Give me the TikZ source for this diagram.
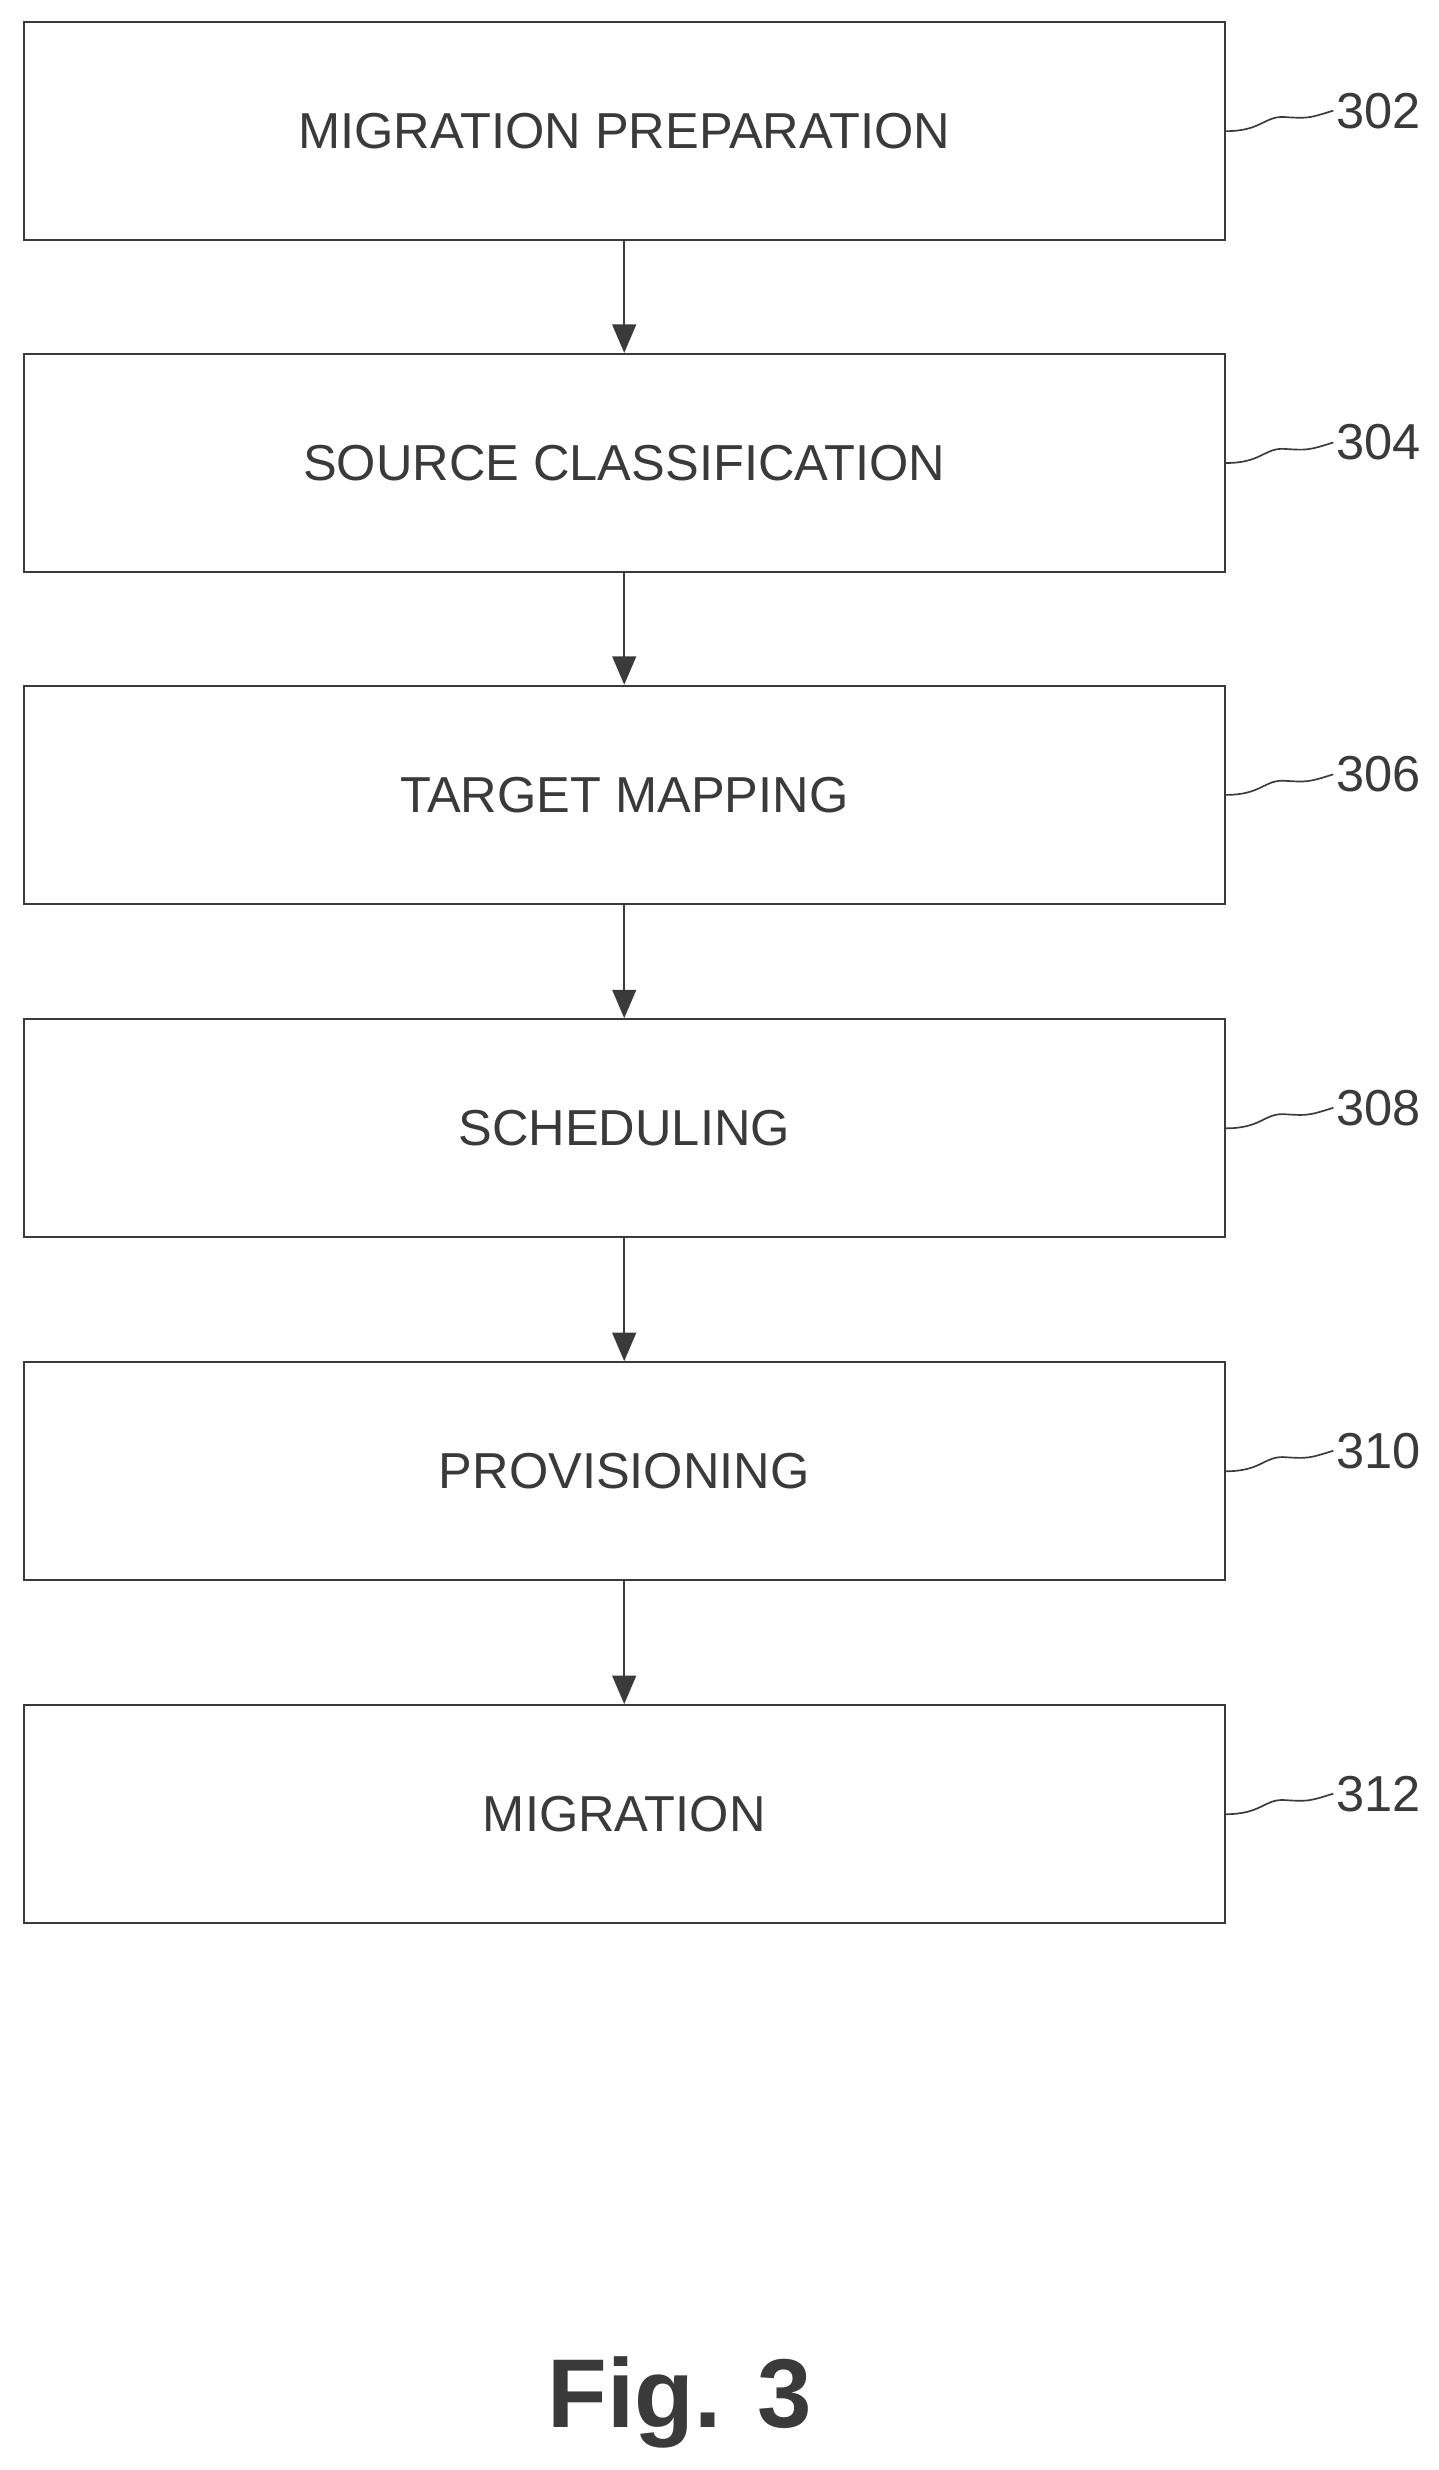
\documentclass[tikz,border=0pt]{standalone}
\usepackage{fontspec}
\setmainfont{Liberation Sans}
\usetikzlibrary{arrows.meta}
\definecolor{ink}{HTML}{3A3A3A}
\begin{document}
\begin{tikzpicture}[x=0.05cm,y=-0.05cm,
	stage/.style={rectangle,draw=ink,line width=2pt,minimum width=38cm,minimum height=6.9cm,text=ink,font=\fontsize{45.5}{50}\selectfont},
	flow/.style={draw=ink,line width=2pt,-{Triangle[length=0.9cm,width=0.75cm]}},
	tag/.style={text=ink,anchor=west,inner sep=0pt,font=\fontsize{45.5}{50}\selectfont}]
	\useasboundingbox (0,0) rectangle (910,1563);
	\node[stage] (prep) at (395,83) {MIGRATION PREPARATION};
	\node[stage] (src) at (395,293) {SOURCE CLASSIFICATION};
	\node[stage] (tgt) at (395,503) {TARGET MAPPING};
	\node[stage] (sched) at (395,714) {SCHEDULING};
	\node[stage] (prov) at (395,931) {PROVISIONING};
	\node[stage] (mig) at (395,1148) {MIGRATION};
	%
	\foreach \a/\b in {prep/src,src/tgt,tgt/sched,sched/prov,prov/mig}
		\draw[flow] (\a) -- (\b);
	%
	\foreach \n/\t in {prep/302,src/304,tgt/306,sched/308,prov/310,mig/312}{
		\draw[ink,line width=1.5pt] (\n.east) .. controls +(22,0) and +(-12,0) .. +(36,-9) .. controls +(16,1) .. +(68,-13) coordinate (c-\n);
		\node[tag] (l-\n) at ([xshift=0.1cm]c-\n) {\t};
	}
	%
	\node[text=ink,font=\bfseries\fontsize{88}{96}\selectfont] (fig) at (430,1520) {Fig. 3};
\end{tikzpicture}
\end{document}
